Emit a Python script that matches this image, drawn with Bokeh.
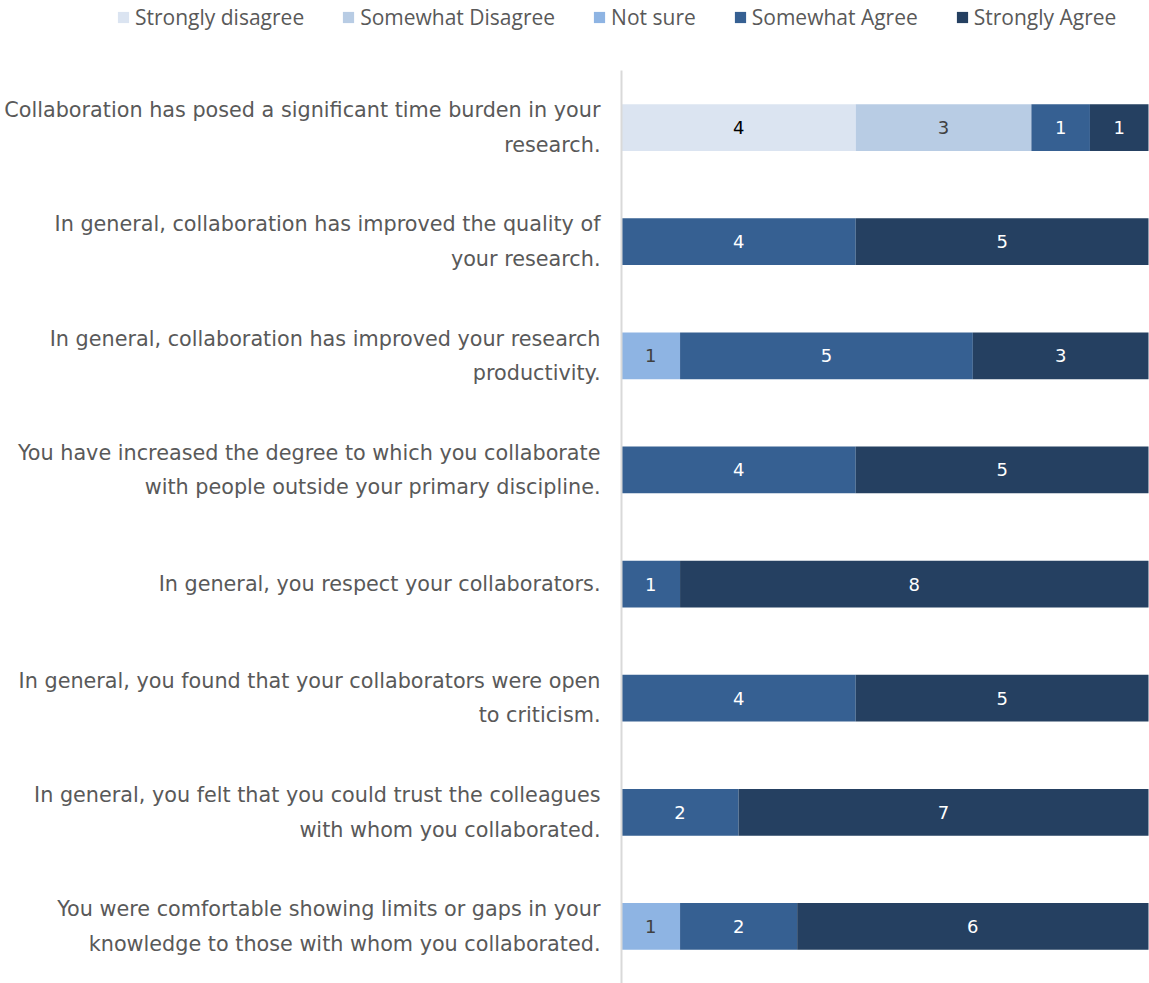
import numpy as np
from bokeh.plotting import figure
from bokeh.models import (ColumnDataSource, Range1d, Legend, LegendItem, FixedTicker)
from bokeh.core.properties import value
from bokeh.embed import file_html
from bokeh.resources import INLINE

questions = [
    "Collaboration has posed a significant time burden in your\nresearch.",
    "In general, collaboration has improved the quality of\nyour research.",
    "In general, collaboration has improved your research\nproductivity.",
    "You have increased the degree to which you collaborate\nwith people outside your primary discipline.",
    "In general, you respect your collaborators.",
    "In general, you found that your collaborators were open\nto criticism.",
    "In general, you felt that you could trust the colleagues\nwith whom you collaborated.",
    "You were comfortable showing limits or gaps in your\nknowledge to those with whom you collaborated.",
]
series_names = ["Strongly disagree", "Somewhat Disagree", "Not sure", "Somewhat Agree", "Strongly Agree"]
strongly_disagree = [4, 0, 0, 0, 0, 0, 0, 0]
somewhat_disagree = [3, 0, 0, 0, 0, 0, 0, 0]
not_sure = [0, 0, 1, 0, 0, 0, 0, 1]
somewhat_agree = [1, 4, 5, 4, 1, 4, 2, 2]
strongly_agree = [1, 5, 3, 5, 8, 5, 7, 6]

colors = ["#DBE4F1", "#B8CCE4", "#8EB4E3", "#366092", "#254061"]
label_colors = ["#000000", "#404040", "#404040", "#FFFFFF", "#FFFFFF"]

values = np.array([strongly_disagree, somewhat_disagree, not_sure, somewhat_agree, strongly_agree], dtype=float)
rights = np.cumsum(values, axis=0)
lefts = rights - values
total = float(values.sum(axis=0).max())
n = len(questions)
ypos = np.arange(n)[::-1].astype(float)   # first question at the top

# layout (pixels)
W, H = 1149, 983
PLOT_LEFT, PLOT_RIGHT_PAD, PLOT_TOP = 621, 1, 70
px_per_x = (W - PLOT_LEFT - PLOT_RIGHT_PAD) / total
px_per_y = (H - PLOT_TOP) / n
x_start = -PLOT_LEFT / px_per_x
x_end = total + PLOT_RIGHT_PAD / px_per_x
y_start = -0.5
y_end = n - 0.5 + PLOT_TOP / px_per_y

p = figure(
    width=W, height=H,
    x_range=Range1d(x_start, x_end), y_range=Range1d(y_start, y_end),
    output_backend="svg", toolbar_location=None,
    min_border_left=0, min_border_right=0, min_border_top=0, min_border_bottom=0,
)
p.outline_line_color = None
p.xgrid.visible = False
p.ygrid.visible = False
p.xaxis.visible = False

items = []
for i, name in enumerate(series_names):
    src = ColumnDataSource(dict(y=ypos, left=lefts[i], right=rights[i], v=values[i]))
    r = p.hbar(y="y", left="left", right="right", height=0.41, source=src,
               fill_color=colors[i], line_color=None)
    items.append(LegendItem(label=name, renderers=[r]))
    mask = values[i] > 0
    tsrc = ColumnDataSource(dict(
        y=ypos[mask],
        x=(lefts[i] + values[i] / 2)[mask],
        t=[str(int(v)) for v in values[i][mask]],
    ))
    p.text(x="x", y="y", text="t", source=tsrc, text_align="center", text_baseline="middle",
           text_color=label_colors[i], text_font_size="18px", text_font=value("DejaVu Sans"))

yax = p.yaxis[0]
yax.fixed_location = 0
yax.bounds = (y_start, n - 0.5)
yax.ticker = FixedTicker(ticks=list(ypos))
yax.major_label_overrides = {float(y): q for y, q in zip(ypos, questions)}
yax.axis_line_color = "#D9D9D9"
yax.axis_line_width = 2
yax.major_tick_line_color = None
yax.minor_tick_line_color = None
yax.major_label_text_font = "DejaVu Sans"
yax.major_label_text_font_size = "20.75px"
yax.major_label_text_color = "#595959"
yax.major_label_text_line_height = 1.44
yax.major_label_standoff = 15

legend = Legend(items=items, orientation="horizontal", location=(116, H - 31),
                label_text_font="Open Sans", label_text_font_size="21px",
                label_text_color="#595959", glyph_width=14, glyph_height=14,
                label_standoff=5, spacing=37, border_line_color=None,
                background_fill_alpha=0, margin=0, padding=2)
p.add_layout(legend, "center")

open("out.html", "w").write(file_html(p, INLINE))
